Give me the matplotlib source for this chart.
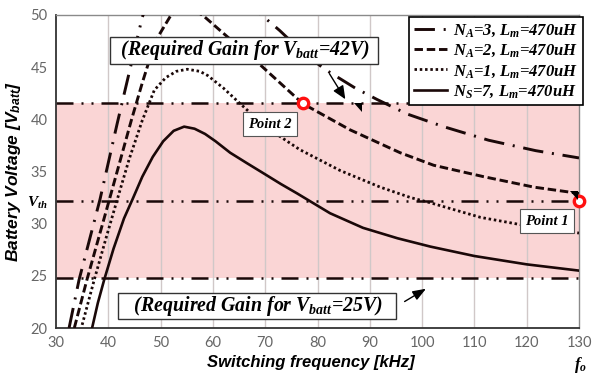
import matplotlib
matplotlib.use("Agg")
import matplotlib.pyplot as plt
from matplotlib.patches import Polygon

plt.rcParams['mathtext.fontset'] = 'custom'
plt.rcParams['mathtext.it'] = 'Liberation Serif:bold:italic'
plt.rcParams['mathtext.rm'] = 'Liberation Serif:bold:italic'
plt.rcParams['mathtext.bf'] = 'Liberation Serif:bold:italic'
plt.rcParams['mathtext.sf'] = 'Liberation Sans:bold:italic'

# ---------------- data ----------------
f_ns7 = [36.9, 38.0, 39.2, 41.0, 43.0, 44.6, 46.5, 48.5, 50.5, 52.5, 54.5, 56.5, 58.5,
         60.5, 63.3, 66.5, 69.6, 73.0, 76.1, 82.4, 88.7, 95.3, 101.6, 110, 120, 130]
v_ns7 = [20.0, 22.4, 24.6, 27.6, 30.5, 32.3, 34.5, 36.4, 37.9, 38.9, 39.3, 39.1, 38.6,
         37.9, 36.8, 35.8, 34.85, 33.8, 32.9, 31.0, 29.6, 28.6, 27.8, 26.9, 26.1, 25.5]

f_na1 = [35.0, 37.3, 39.5, 41.7, 44.0, 46.5, 48.8, 51.0, 53.0, 55.1, 57.5, 59.0, 62.0,
         65.0, 68.5, 72.4, 76.6, 84.3, 92.0, 97.8, 101.6, 111.2, 120, 130]
v_na1 = [20.3, 24.6, 28.5, 32.3, 36.2, 39.9, 42.8, 44.0, 44.6, 44.8, 44.6, 44.2, 43.0,
         41.6, 40.0, 38.5, 37.1, 35.1, 33.5, 32.5, 32.0, 30.6, 29.8, 29.1]

f_na2 = [33.5, 35.9, 40.2, 44.4, 46.5, 49.0, 52.0, 55.0, 58.0, 62.8, 68.0, 77.2, 86.2,
         95.8, 102.2, 111.8, 121.4, 130]
v_na2 = [20.0, 24.6, 32.3, 39.9, 43.5, 47.5, 50.0, 50.8, 50.0, 47.9, 45.7, 41.5, 39.0,
         36.8, 35.6, 34.5, 33.5, 32.9]

f_na3 = [32.5, 34.4, 38.4, 41.7, 46.5, 49.0, 52.0, 56.0, 60.0, 64.0, 69.3, 72.8, 77.0,
         81.4, 87.2, 91.4, 97.2, 104.1, 112.7, 121.7, 130]
v_na3 = [20.0, 24.6, 32.3, 39.6, 49.8, 53.0, 55.0, 56.0, 55.5, 53.0, 50.0, 48.5, 46.5,
         44.8, 43.0, 41.9, 40.5, 39.3, 38.0, 37.0, 36.3]

v_req_high = 41.55
v_th = 32.2
v_req_low = 24.8

point2 = (77.2, 41.55)
point1 = (130.0, 32.2)

legend_labels = ['$N_A$=3, $L_m$=470uH', '$N_A$=2, $L_m$=470uH',
                 '$N_A$=1, $L_m$=470uH', '$N_S$=7, $L_m$=470uH']
x_ticks = [30, 40, 50, 60, 70, 80, 90, 100, 110, 120, 130]
y_ticks = [20, 25, 30, 35, 40, 45, 50]

# ---------------- figure ----------------
fig = plt.figure(figsize=(5.92, 3.77), dpi=100)
ax = fig.add_axes([56/592, 49/377, 523/592, 313/377])
ax.set_xlim(30, 130)
ax.set_ylim(20, 50)

ink = '#1a0808'

ax.axhspan(v_req_low, v_req_high, color='#fad5d5', zorder=0, lw=0)
for xv in x_ticks[1:-1]:
    ax.axvline(xv, color='#d0c8c8', lw=1.0, zorder=0.5)

ref_style = dict(color=ink, lw=1.8, linestyle=(0, (6.8, 3.2, 0.8, 3.2, 0.8, 3.2)),
                 dash_capstyle='butt', zorder=2)
for yv in (v_req_high, v_th, v_req_low):
    ax.axhline(yv, **ref_style)

dashdot_style = (0, (7.0, 3.0, 0.7, 3.0))
l3, = ax.plot(f_na3, v_na3, color=ink, lw=2.1, linestyle=dashdot_style,
              dash_capstyle='butt', zorder=3)
l2, = ax.plot(f_na2, v_na2, color=ink, lw=2.1, linestyle=(0, (2.9, 1.3)),
              dash_capstyle='butt', zorder=3)
l1, = ax.plot(f_na1, v_na1, color=ink, lw=2.0, linestyle=(0, (0.9, 1.0)),
              dash_capstyle='butt', zorder=3)
l0, = ax.plot(f_ns7, v_ns7, color=ink, lw=1.9, linestyle='-', zorder=3)

for p in (point2, point1):
    ax.plot([p[0]], [p[1]], marker='o', ms=7.5, mfc='white', mec='#ff1010', mew=2.4,
            clip_on=False, zorder=6, linestyle='none')

# ticks
ax.set_xticks(x_ticks)
ax.set_xticklabels([str(t) for t in x_ticks])
yt = [20, 25, 30, v_th, 35, 40, 45, 50]
ax.set_yticks(yt)
ax.set_yticklabels(['20', '25', '30', '$V_{th}$', '35', '40', '45', '50'])
ax.tick_params(length=0, labelsize=10.5, colors='#666666', pad=6)
for lab in ax.get_xticklabels() + ax.get_yticklabels():
    lab.set_family('Lato')
vth_lab = ax.get_yticklabels()[3]
vth_lab.set_color('black')
vth_lab.set_fontsize(11)

for s in ('left', 'bottom'):
    ax.spines[s].set_color('#333333')
    ax.spines[s].set_linewidth(1.3)
for s in ('top', 'right'):
    ax.spines[s].set_color('#8a8a8a')
    ax.spines[s].set_linewidth(1.0)

ax.set_xlabel('Switching frequency [kHz]', family='Liberation Sans', weight='bold',
              style='italic', fontsize=12, labelpad=1)
ax.xaxis.set_label_coords(0.487, -0.085)
ax.set_ylabel(r'Battery Voltage [$\mathsf{V_{batt}}$]', family='Liberation Sans',
              weight='bold', style='italic', fontsize=12.5, labelpad=3)

serif = dict(family='Liberation Serif', weight='bold', style='italic')

# annotation boxes
ax.text(65.9, 46.6, r'  (Required Gain for $V_{batt}$=42V)  ', ha='center', va='center',
        fontsize=14.3, zorder=7, bbox=dict(boxstyle='square,pad=0.06', fc='white',
                                           ec='#333333', lw=1.0), **serif)
ax.text(68.4, 22.1, r'   (Required Gain for $V_{batt}$=25V)   ', ha='center', va='center',
        fontsize=14.3, zorder=7, bbox=dict(boxstyle='square,pad=0.06', fc='white',
                                           ec='#333333', lw=1.0), **serif)
ax.annotate('', xy=(85.6, 41.7), xytext=(82.0, 44.6),
            arrowprops=dict(arrowstyle='-|>,head_length=0.8,head_width=0.35',
                            color='black', lw=1.0), zorder=7)
ax.annotate('', xy=(101.2, 23.9), xytext=(96.2, 22.4),
            arrowprops=dict(arrowstyle='-|>,head_length=0.8,head_width=0.3',
                            color='black', lw=1.0), zorder=7)

for (px, py, txt) in ((70.9, 39.55, 'Point 2'), (123.9, 30.25, 'Point 1')):
    ax.text(px, py, txt, ha='center', va='center', fontsize=10.5, zorder=7,
            bbox=dict(boxstyle='square,pad=0.35', fc='white', ec='#555555', lw=0.8),
            **serif)

# small corner triangles of callouts (axes-fraction)
for (xr, yt_) in ((0.5850, 0.719), (0.9990, 0.4373)):
    tri = Polygon([[xr - 0.016, yt_], [xr, yt_], [xr, yt_ - 0.028]], closed=True,
                  transform=ax.transAxes, fc='black', ec='none', zorder=8)
    ax.add_patch(tri)

leg = ax.legend([l3, l2, l1, l0], legend_labels, loc='upper right',
                bbox_to_anchor=(583/592, 1 - 17/377), bbox_transform=fig.transFigure,
                prop=dict(family='Liberation Serif', weight='bold', style='italic', size=12),
                frameon=True, fancybox=False, edgecolor='black', framealpha=1,
                handlelength=2.0, handletextpad=0.35, labelspacing=0.22,
                borderpad=0.3, borderaxespad=0)
leg.get_frame().set_linewidth(1.2)
leg.set_zorder(9)

fig.text(580/592, 1 - 365/377, '$f_o$', ha='center', va='center', fontsize=12)

fig.savefig('out.png', dpi=100)
